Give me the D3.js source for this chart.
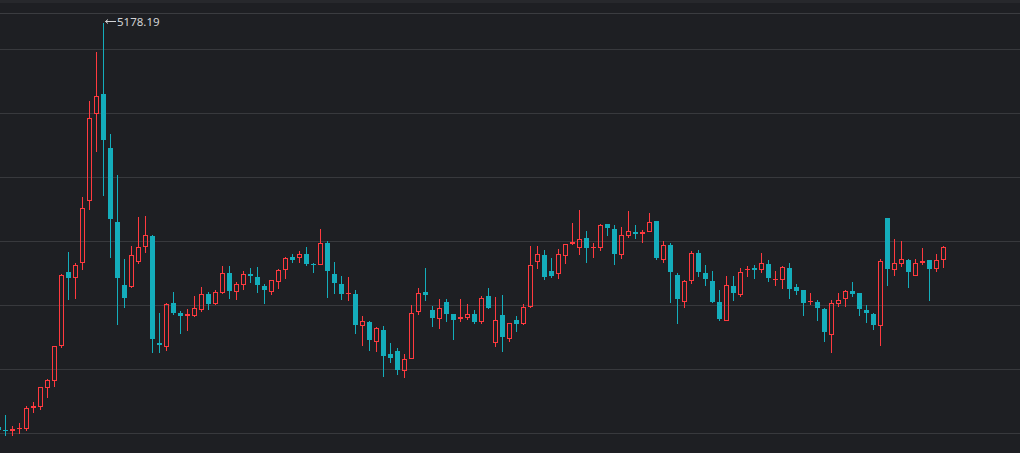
<!DOCTYPE html>
<html>
<head>
<meta charset="utf-8">
<script src="https://cdn.jsdelivr.net/npm/d3@7"></script>
<style>
html,body{margin:0;padding:0;background:#1e1f23;overflow:hidden;}
svg{display:block;}
</style>
</head>
<body>
<svg id="chart" width="1020" height="453" shape-rendering="crispEdges"></svg>
<script>
// Shanghai Composite, monthly candles, Mar 2014 – Jun 2025
const months = [];
(function(){ for (let y = 2014, m = 3; !(y === 2025 && m === 7); ) { months.push(y + "-" + String(m).padStart(2,"0")); m++; if (m > 12) { m = 1; y++; } } })();

const openVals = [
  2057,2032,2027,2040,2050,2205,2216,2365,2420,2690,
  3258,3212,3330,3810,4481,4633,4214,3643,3157,3144,3337,3457,
  3536,2702,2683,3012,2937,2914,2924,2965,3082,3012,3101,3246,
  3105,3159,3235,3219,3147,3110,3186,3275,3367,3372,3395,3316,
  3314,3479,3236,3163,3081,3084,2842,2869,2721,2805,2624,2646,
  2497,2588,2954,3102,2962,2897,3025,2926,2892,2910,2932,2875,
  3067,2716,2924,2743,2880,2857,2991,3338,3388,3262,3244,3388,
  3474,3451,3514,3436,3447,3626,3587,3390,3541,3566,3550,3571,
  3650,3358,3465,3233,3030,3190,3401,3249,3182,3025,2884,3147,
  3087,3268,3284,3275,3317,3200,3200,3289,3137,3112,3020,3026,
  2972,2776,3016,3051,3108,3089,2961,2931,2844,3674,3276,3323,
  3347,3232,3323,3344,3282,3352
];
const highVals = [
  2078,2146,2062,2087,2218,2248,2365,2431,2683,3239,
  3406,3324,3835,4572,4958,5178.19,4318,4006,3358,3459,3679,3685,
  3539,2934,3018,3096,2952,2968,3070,3140,3100,3112,3301,3301,
  3174,3261,3284,3295,3163,3193,3277,3374,3392,3418,3450,3327,
  3587,3495,3334,3220,3219,3114,2915,2876,2827,2838,2703,2667,
  2618,2999,3130,3288,2992,3045,3049,2930,3048,3004,2964,3069,
  3127,3058,3074,2863,2917,3007,3458,3452,3425,3364,3433,3474,
  3632,3732,3571,3482,3627,3629,3615,3603,3723,3616,3578,3709,
  3651,3490,3480,3250,3195,3415,3424,3311,3260,3119,3226,3226,
  3282,3304,3306,3398,3349,3263,3298,3322,3159,3116,3089,3037,
  2973,3035,3090,3113,3174,3093,3002,2938,3358,3674,3509,3494,
  3351,3355,3439,3350,3395,3455
];
const lowVals = [
  1974,1995,1991,2010,2036,2175,2197,2288,2372,2676,
  3049,3050,3277,3742,4188,3848,3374,2850,2983,3140,3322,3406,
  2638,2639,2649,2928,2781,2807,2917,2950,2969,3008,3095,3056,
  3044,3123,3178,3097,3016,3081,3133,3208,3329,3330,3307,3254,
  3314,3062,3091,3042,3041,2782,2691,2653,2644,2449,2557,2463,
  2440,2588,2930,3036,2838,2822,2879,2733,2879,2891,2857,2857,
  2976,2686,2647,2720,2798,2851,2985,3285,3203,3212,3209,3325,
  3468,3390,3328,3367,3422,3540,3313,3364,3522,3515,3484,3571,
  3357,3334,3023,2863,2985,3171,3227,3156,3021,2885,2885,3036,
  3065,3224,3210,3255,3184,3151,3131,3053,3086,2923,3006,2882,
  2724,2635,2993,2995,3068,2925,2865,2815,2690,3152,3230,3302,
  3140,3229,3313,3040,3261,3296
];
const closeVals = [
  2033,2026,2039,2048,2201,2217,2364,2420,2682,3234,
  3210,3310,3748,4441,4612,4277,3664,3206,3053,3383,3445,3539,
  2738,2688,3004,2938,2917,2930,2979,3085,3005,3100,3250,3104,
  3159,3242,3223,3155,3117,3192,3273,3361,3349,3393,3317,3307,
  3481,3259,3169,3082,3095,2847,2876,2725,2821,2603,2588,2494,
  2585,2941,3091,3078,2899,2979,2932,2886,2905,2929,2871,3050,
  2977,2880,2750,2860,2852,2985,3310,3396,3218,3225,3392,3473,
  3483,3509,3442,3447,3615,3591,3397,3544,3568,3547,3564,3640,
  3361,3462,3252,3047,3186,3399,3253,3202,3024,2893,3151,3089,
  3256,3280,3273,3323,3205,3202,3291,3120,3110,3018,3030,2975,
  2789,3015,3041,3105,3087,2967,2939,2842,3336,3280,3326,3352,
  3251,3321,3336,3279,3347,3444
];
// horizontal grid levels (price)
const gridVals = [2010, 2505, 2999, 3494, 3989, 4483, 4978];

const W = 1020, H = 453;
const BG = "#1e1f23", UP = "#ff3a3f", DOWN = "#14adbb";
const svg = d3.select("#chart");

svg.append("rect").attr("x",0).attr("y",0).attr("width",W).attr("height",H).attr("fill",BG);
svg.append("rect").attr("x",0).attr("y",0).attr("width",W).attr("height",3).attr("fill","#27282c");
svg.append("rect").attr("x",0).attr("y",13).attr("width",W).attr("height",1).attr("fill","#3b3c40");

const data = months.map((d,i)=>({date:d, o:openVals[i], h:highVals[i], l:lowVals[i], c:closeVals[i]}));

const x = d3.scaleLinear().domain([0, data.length-1]).range([-2, -2 + 7*(data.length-1)]);
const y = d3.scaleLinear().domain([2000, 5200]).range([693.1 - 0.1294*2000, 693.1 - 0.1294*5200]);

svg.append("g").selectAll("rect").data(gridVals).join("rect")
  .attr("x",0).attr("width",W)
  .attr("y",d=>Math.round(y(d))).attr("height",1)
  .attr("fill","#38393d");

const g = svg.append("g");
const cand = g.selectAll("g.c").data(data).join("g").attr("class","c");

cand.each(function(d,i){
  const s = d3.select(this);
  const cx = Math.round(x(i));
  const up = d.c >= d.o;
  const col = up ? UP : DOWN;
  const yh = Math.round(y(d.h)), yl = Math.round(y(d.l));
  let yt = Math.round(y(Math.max(d.o,d.c))), yb = Math.round(y(Math.min(d.o,d.c)));
  if (yb - yt < 1) yb = yt + 1;
  const r = (x0,y0,w,h)=>s.append("rect").attr("x",x0).attr("y",y0).attr("width",w).attr("height",Math.max(1,h)).attr("fill",col);
  if (up && yb - yt >= 3) {
    if (yt > yh) r(cx, yh, 1, yt - yh);
    if (yl > yb) r(cx, yb, 1, yl - yb + 1);
    r(cx-2, yt, 5, 1);
    r(cx-2, yb, 5, 1);
    r(cx-2, yt, 1, yb - yt + 1);
    r(cx+2, yt, 1, yb - yt + 1);
  } else {
    r(cx, yh, 1, yl - yh + 1);
    r(cx-2, yt, 5, yb - yt);
  }
});

// max label with arrow
const iMax = d3.maxIndex(highVals);
const lx = Math.round(x(iMax)) + 2, ly = Math.round(y(highVals[iMax])) - 1.5;
const lab = svg.append("g").attr("shape-rendering","auto");
lab.append("path")
  .attr("d", `M${lx+11},${ly}H${lx+0.5}M${lx+3},${ly-2}L${lx+0.5},${ly}L${lx+3},${ly+2}`)
  .attr("stroke","#d2d3d5").attr("stroke-width",1).attr("fill","none");
lab.append("text")
  .attr("x", lx + 12)
  .attr("y", ly + 4.5)
  .attr("font-family","Noto Sans, sans-serif")
  .attr("font-size", 11.5)
  .attr("fill","#d2d3d5")
  .text(d3.format(".2f")(highVals[iMax]));
</script>
</body>
</html>
